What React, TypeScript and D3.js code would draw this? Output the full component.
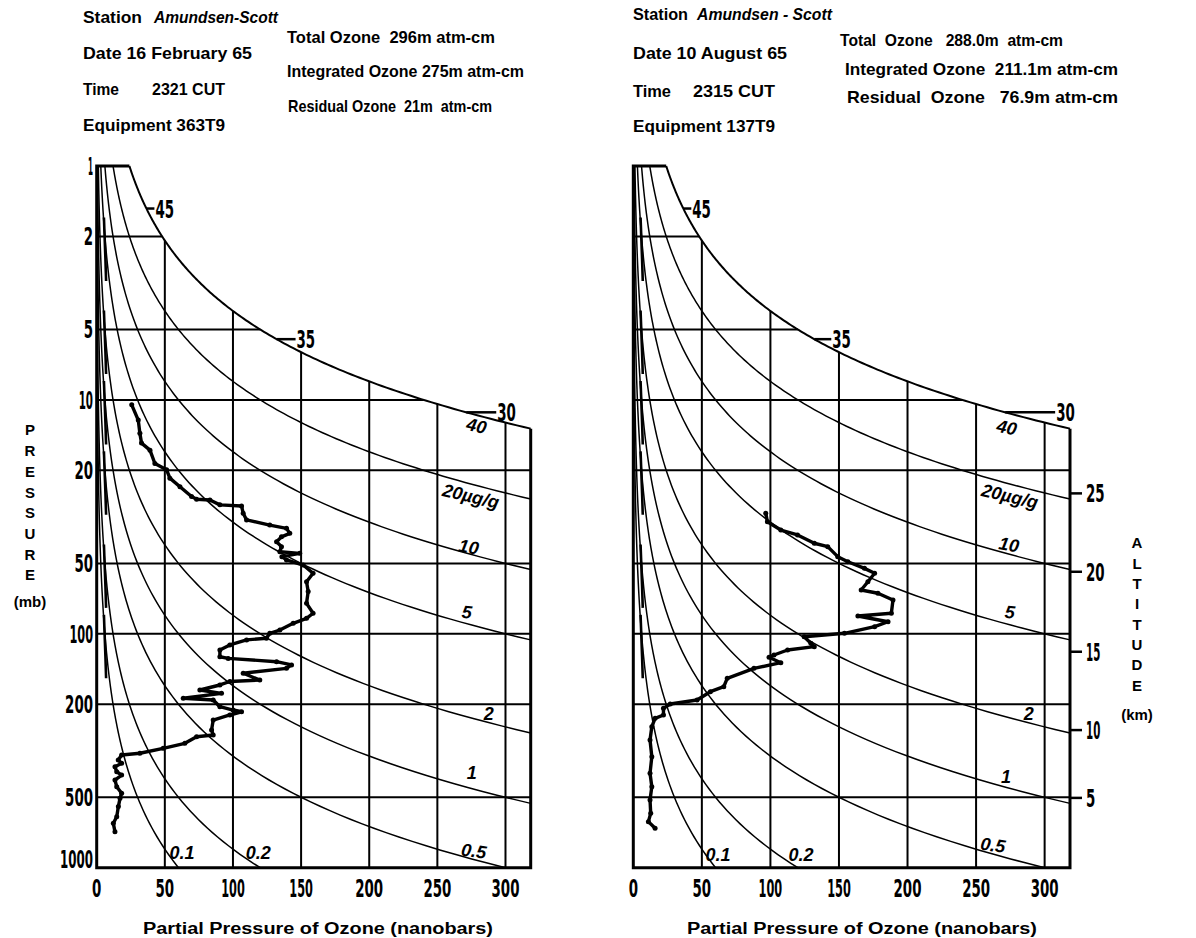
import React from 'react';
import * as d3 from 'd3';

// ---------------- data ----------------
const X_TICKS = [0, 50, 100, 150, 200, 250, 300];
const P_TICKS = [1, 2, 5, 10, 20, 50, 100, 200, 500, 1000];
const GRID_P = [2, 5, 10, 20, 50, 100, 200, 500];
const GRID_NB = [50, 100, 150, 200, 250, 300];
const MIX_RATIOS = [0.1, 0.2, 0.5, 1, 2, 5, 10, 20];
const TOP_RATIO = 40;
const MIX_LABELS = ['0.1', '0.2', '0.5', '1', '2', '5', '10', '20\u00b5g/g', '40'];
const MIX_LABEL_ROT = [0, 0, 8, 0, 0, 6, 10, 13, 12];
const ALT_KM = ['5', '10', '15', '20', '25'];
const ALT_P = [503, 258, 119.3, 54.3, 25.1];
const TOP_ALT_KM = ['45', '35', '30'];
const TOP_ALT_P = [1.52, 5.5, 11.3];
const STUB_P = [2, 5, 10, 20, 50, 100];

// label anchors [nb, mb] for MIX_LABELS, per panel
const LEFT_LABEL_POS = [[62.7, 865], [118.5, 865], [276.8, 848], [275.3, 394], [287.8, 220], [271.6, 80.7], [273.1, 42.5], [274.6, 25.8], [278.8, 12.9]];
const RIGHT_LABEL_POS = [[61.8, 880], [122.3, 880], [262.3, 800], [271.8, 409], [288.5, 220], [274.7, 80.7], [274, 41.5], [274.7, 25.8], [272.5, 13.1]];

// ozone soundings [partial pressure nb, pressure mb]
const FEB_PROFILE = [
  [25.7, 10.5], [30.5, 12.2], [31.7, 13.9], [32.9, 15.3], [39.1, 16.4], [42.7, 18.7], [51.3, 19.9], [53.7, 21.6],
  [61.1, 23.5], [69.6, 25.9], [73.3, 26.6], [83.1, 26.8], [90.4, 28.1], [106.3, 28.4], [107.5, 30.5], [110, 32.6],
  [127, 34.3], [139.3, 35.4], [141.7, 37.2], [135.6, 38.5], [132, 40.4], [135.6, 42.4], [134.4, 44.6], [149, 45.3],
  [135.9, 46.8], [139.3, 48.3], [151.5, 50.8], [158.8, 55.1], [154, 59.9], [155.2, 66], [154, 74.1], [158.8, 81.7],
  [154, 85.9], [144.2, 90.2], [134.4, 96.4], [127, 99.5], [124.6, 104.5], [110, 106.2], [97.7, 111.6], [90.4, 117.3],
  [90.4, 125.3], [96.5, 127.4], [132, 131.6], [143, 135.9], [139.3, 140.5], [107.5, 147.5], [119.7, 157.6], [97.7, 159.9],
  [90.4, 165.5], [75.7, 173.9], [91.6, 179.7], [63.5, 188.7], [85.5, 191.8], [90.4, 205], [100.1, 211.8], [106.3, 215.4],
  [97.7, 222.4], [85.5, 233.7], [84.3, 257.8], [85.5, 270.8], [73.3, 275.4], [64.7, 294], [48.8, 308.9], [31.7, 324.2],
  [18.3, 329.7], [15.8, 346.4], [18.3, 358], [13.4, 370], [14.7, 388.8], [18.3, 401.7], [13.4, 421.8], [14.7, 450.4],
  [18.3, 480.7], [17.1, 505], [15.9, 548], [14.7, 605], [12.2, 646], [13.4, 701.6],
];
const AUG_PROFILE = [
  [96.6, 30.5], [97.8, 33.2], [107.6, 36], [119.8, 37.8], [132, 41], [141.8, 42.4], [149.1, 46.8], [156.5, 49.2],
  [168.6, 52.5], [176, 55.1], [171.1, 59.9], [166.2, 65], [178.4, 67.1], [189.4, 71.7], [188.2, 81.7], [163.8, 83.9],
  [185.8, 88.8], [176, 93.2], [154, 99.5], [124.6, 102.9], [129.5, 109.8], [132, 113.5], [112.5, 117.3], [102.6, 123.2],
  [99, 126], [107.6, 132.9], [88, 140.5], [68.5, 155], [66, 168.3], [56.2, 176.8], [46.5, 191.9], [26.9, 199.6],
  [22, 208.3], [22, 222.4], [15.9, 229.8], [13.5, 249.6], [12.2, 284.5], [13.5, 335.3], [12.2, 394.9], [13.5, 450.4],
  [12.2, 513.5], [12.7, 585.6], [11, 635.6], [15.9, 678.6],
];

const LEFT_HEADER = [
  { t: 'Station', x: 83, y: 23, w: 59 },
  { t: 'Amundsen-Scott', x: 154, y: 23, w: 124, it: true },
  { t: 'Date 16 February 65', x: 83, y: 59, w: 169 },
  { t: 'Time', x: 83, y: 95, w: 36 },
  { t: '2321 CUT', x: 152, y: 95, w: 73 },
  { t: 'Equipment 363T9', x: 83, y: 131, w: 142 },
  { t: 'Total Ozone  296m atm-cm', x: 287, y: 43, w: 208 },
  { t: 'Integrated Ozone 275m atm-cm', x: 287, y: 77, w: 237 },
  { t: 'Residual Ozone  21m  atm-cm', x: 288, y: 112, w: 204 },
];
const RIGHT_HEADER = [
  { t: 'Station', x: 633, y: 20, w: 55 },
  { t: 'Amundsen - Scott', x: 697, y: 20, w: 135, it: true },
  { t: 'Date 10 August 65', x: 633, y: 59, w: 154 },
  { t: 'Time', x: 633, y: 97, w: 38 },
  { t: '2315 CUT', x: 693, y: 97, w: 82 },
  { t: 'Equipment 137T9', x: 633, y: 132, w: 142 },
  { t: 'Total  Ozone   288.0m  atm-cm', x: 840, y: 46, w: 223 },
  { t: 'Integrated Ozone  211.1m atm-cm', x: 845, y: 75, w: 273 },
  { t: 'Residual  Ozone   76.9m atm-cm', x: 847, y: 103, w: 271 },
];

// ---------------- constants ----------------
const K = 0.6; // nb per (mb * µg/g)
const XMAX = 318.5;
const Y_TOP = 166;
const Y_BOT = 867.7;
const W = 1196;
const H = 938;

const SANS = "'Liberation Sans', Arial, sans-serif";
const NARROW = "'Liberation Sans Narrow', 'DejaVu Sans Condensed', 'Liberation Sans', sans-serif";

const digitLen = (s: string) => s.split('').reduce((a, c) => a + (c === '1' ? 5 : 9.3), 0);

function NumText({ x, y, s, anchor = 'middle' }: { x: number; y: number; s: string; anchor?: string }) {
  return (
    <text x={x} y={y} fontFamily={NARROW} fontWeight="bold" fontSize={24} textAnchor={anchor}
      textLength={digitLen(s)} lengthAdjust="spacingAndGlyphs" fill="#000">{s}</text>
  );
}

const yScale = d3.scaleLog().domain([1, 1000]).range([Y_TOP, Y_BOT]);

function ratioCurve(r: number) {
  const pEnd = Math.min(1000, XMAX / (K * r));
  const n = 160;
  return d3.range(n + 1).map((i) => {
    const p = Math.pow(10, (Math.log10(pEnd) * i) / n);
    return [K * r * p, p];
  });
}

type PanelProps = {
  x0: number; x1: number; profile: number[][]; labelPos: number[][];
  topTickLen: number[]; showP: boolean; showAlt: boolean; titleX: number;
};

function Panel({ x0, x1, profile, labelPos, topTickLen, showP, showAlt, titleX }: PanelProps) {
  const x = d3.scaleLinear().domain([0, XMAX]).range([x0, x1]);
  const line = d3.line<number[]>().x((d) => x(d[0])).y((d) => yScale(d[1]));
  const topP = XMAX / (K * TOP_RATIO);

  const frame = `M${x(K * TOP_RATIO)},${yScale(1)} L${x(0)},${yScale(1)} L${x(0)},${yScale(1000)} L${x(XMAX)},${yScale(1000)} L${x(XMAX)},${yScale(topP)}`;

  return (
    <g>
      {/* grid */}
      {GRID_P.map((p) => (
        <line key={'h' + p} x1={x(0)} x2={x(Math.min(XMAX, K * TOP_RATIO * p))} y1={yScale(p)} y2={yScale(p)} stroke="#000" strokeWidth={2} />
      ))}
      {GRID_NB.map((v) => (
        <line key={'v' + v} x1={x(v)} x2={x(v)} y1={yScale(1000)} y2={yScale(v / (K * TOP_RATIO))} stroke="#000" strokeWidth={2} />
      ))}
      {/* mixing ratio curves */}
      {MIX_RATIOS.map((r) => (
        <path key={'c' + r} d={line(ratioCurve(r)) || ''} fill="none" stroke="#000" strokeWidth={1.5} />
      ))}
      <path d={line(ratioCurve(TOP_RATIO)) || ''} fill="none" stroke="#000" strokeWidth={2} />
      {/* short heavy stubs near the axis */}
      {STUB_P.map((p) => (
        <path key={'s' + p} d={line([[5.3, p * 0.83], [5.8, p], [6.4, p * 1.25], [6.9, p * 1.55]]) || ''} fill="none" stroke="#000" strokeWidth={2.6} />
      ))}
      <path d={frame} fill="none" stroke="#000" strokeWidth={3} strokeLinejoin="miter" />
      {/* mixing ratio labels */}
      {MIX_LABELS.map((s, i) => {
        const cx = x(labelPos[i][0]);
        const cy = yScale(labelPos[i][1]);
        return (
          <text key={'l' + s} x={cx} y={cy} dy="0.35em" textAnchor="middle" fontFamily={SANS} fontWeight="bold"
            fontStyle="italic" fontSize={18} transform={`rotate(${MIX_LABEL_ROT[i]},${cx},${cy})`}>{s}</text>
        );
      })}
      {/* altitude ticks on top curve */}
      {TOP_ALT_KM.map((s, i) => {
        const px = x(K * TOP_RATIO * TOP_ALT_P[i]);
        const py = yScale(TOP_ALT_P[i]);
        return (
          <g key={'ta' + s}>
            <line x1={px} x2={px + topTickLen[i]} y1={py} y2={py} stroke="#000" strokeWidth={2.5} />
            <NumText x={px + topTickLen[i] + 1} y={py + 9} s={s} anchor="start" />
          </g>
        );
      })}
      {/* x tick labels */}
      {X_TICKS.map((v) => (
        <NumText key={'xt' + v} x={x(v)} y={897} s={String(v)} />
      ))}
      {showP && P_TICKS.map((p) => (
        <NumText key={'pt' + p} x={93} y={p === 1000 ? yScale(p) : yScale(p) + 9} s={String(p)} anchor="end" />
      ))}
      {showAlt && ALT_KM.map((s, i) => (
        <g key={'alt' + s}>
          <line x1={x(XMAX)} x2={x(XMAX) + 12} y1={yScale(ALT_P[i])} y2={yScale(ALT_P[i])} stroke="#000" strokeWidth={2.5} />
          <NumText x={x(XMAX) + 16} y={yScale(ALT_P[i]) + 9} s={s} anchor="start" />
        </g>
      ))}
      {/* profile */}
      <path d={line(profile) || ''} fill="none" stroke="#000" strokeWidth={3.4} strokeLinejoin="round" strokeLinecap="round" />
      {profile.map((d, i) => (
        <circle key={'d' + i} cx={x(d[0])} cy={yScale(d[1])} r={2.5} fill="#000" />
      ))}
      <text x={titleX} y={934} textAnchor="middle" fontFamily={SANS} fontWeight="bold" fontSize={16}
        textLength={350} lengthAdjust="spacingAndGlyphs">Partial  Pressure  of  Ozone  (nanobars)</text>
    </g>
  );
}

function Header({ items }: { items: { t: string; x: number; y: number; w: number; it?: boolean }[] }) {
  return (
    <g>
      {items.map((d) => (
        <text key={d.t} x={d.x} y={d.y} fontFamily={SANS} fontWeight="bold" fontStyle={d.it ? 'italic' : 'normal'}
          fontSize={17} textLength={d.w} lengthAdjust="spacingAndGlyphs" xmlSpace="preserve" style={{ whiteSpace: 'pre' }}>{d.t}</text>
      ))}
    </g>
  );
}

function Stacked({ letters, x, y0, step, tail, tailY }: { letters: string; x: number; y0: number; step: number; tail: string; tailY: number }) {
  return (
    <g fontFamily={SANS} fontWeight="bold" fontSize={15} textAnchor="middle">
      {letters.split('').map((c, i) => (
        <text key={i} x={x} y={y0 + i * step} dy="0.36em">{c}</text>
      ))}
      <text x={x} y={tailY} dy="0.36em">{tail}</text>
    </g>
  );
}

export default function App() {
  return (
    <svg width={W} height={H} viewBox={`0 0 ${W} ${H}`} style={{ position: 'absolute', left: 0, top: 0, background: '#fff' }}>
      <rect width={W} height={H} fill="#fff" />
      <Header items={LEFT_HEADER} />
      <Header items={RIGHT_HEADER} />
      <Panel x0={96.7} x1={530.7} profile={FEB_PROFILE} labelPos={LEFT_LABEL_POS} topTickLen={[8, 19, 30]}
        showP={true} showAlt={false} titleX={318} />
      <Panel x0={633.3} x1={1070} profile={AUG_PROFILE} labelPos={RIGHT_LABEL_POS} topTickLen={[8, 17, 50]}
        showP={false} showAlt={true} titleX={862} />
      <Stacked letters="PRESSURE" x={30} y0={430} step={20.7} tail="(mb)" tailY={602} />
      <Stacked letters="ALTITUDE" x={1137} y0={543} step={20.3} tail="(km)" tailY={715} />
    </svg>
  );
}
